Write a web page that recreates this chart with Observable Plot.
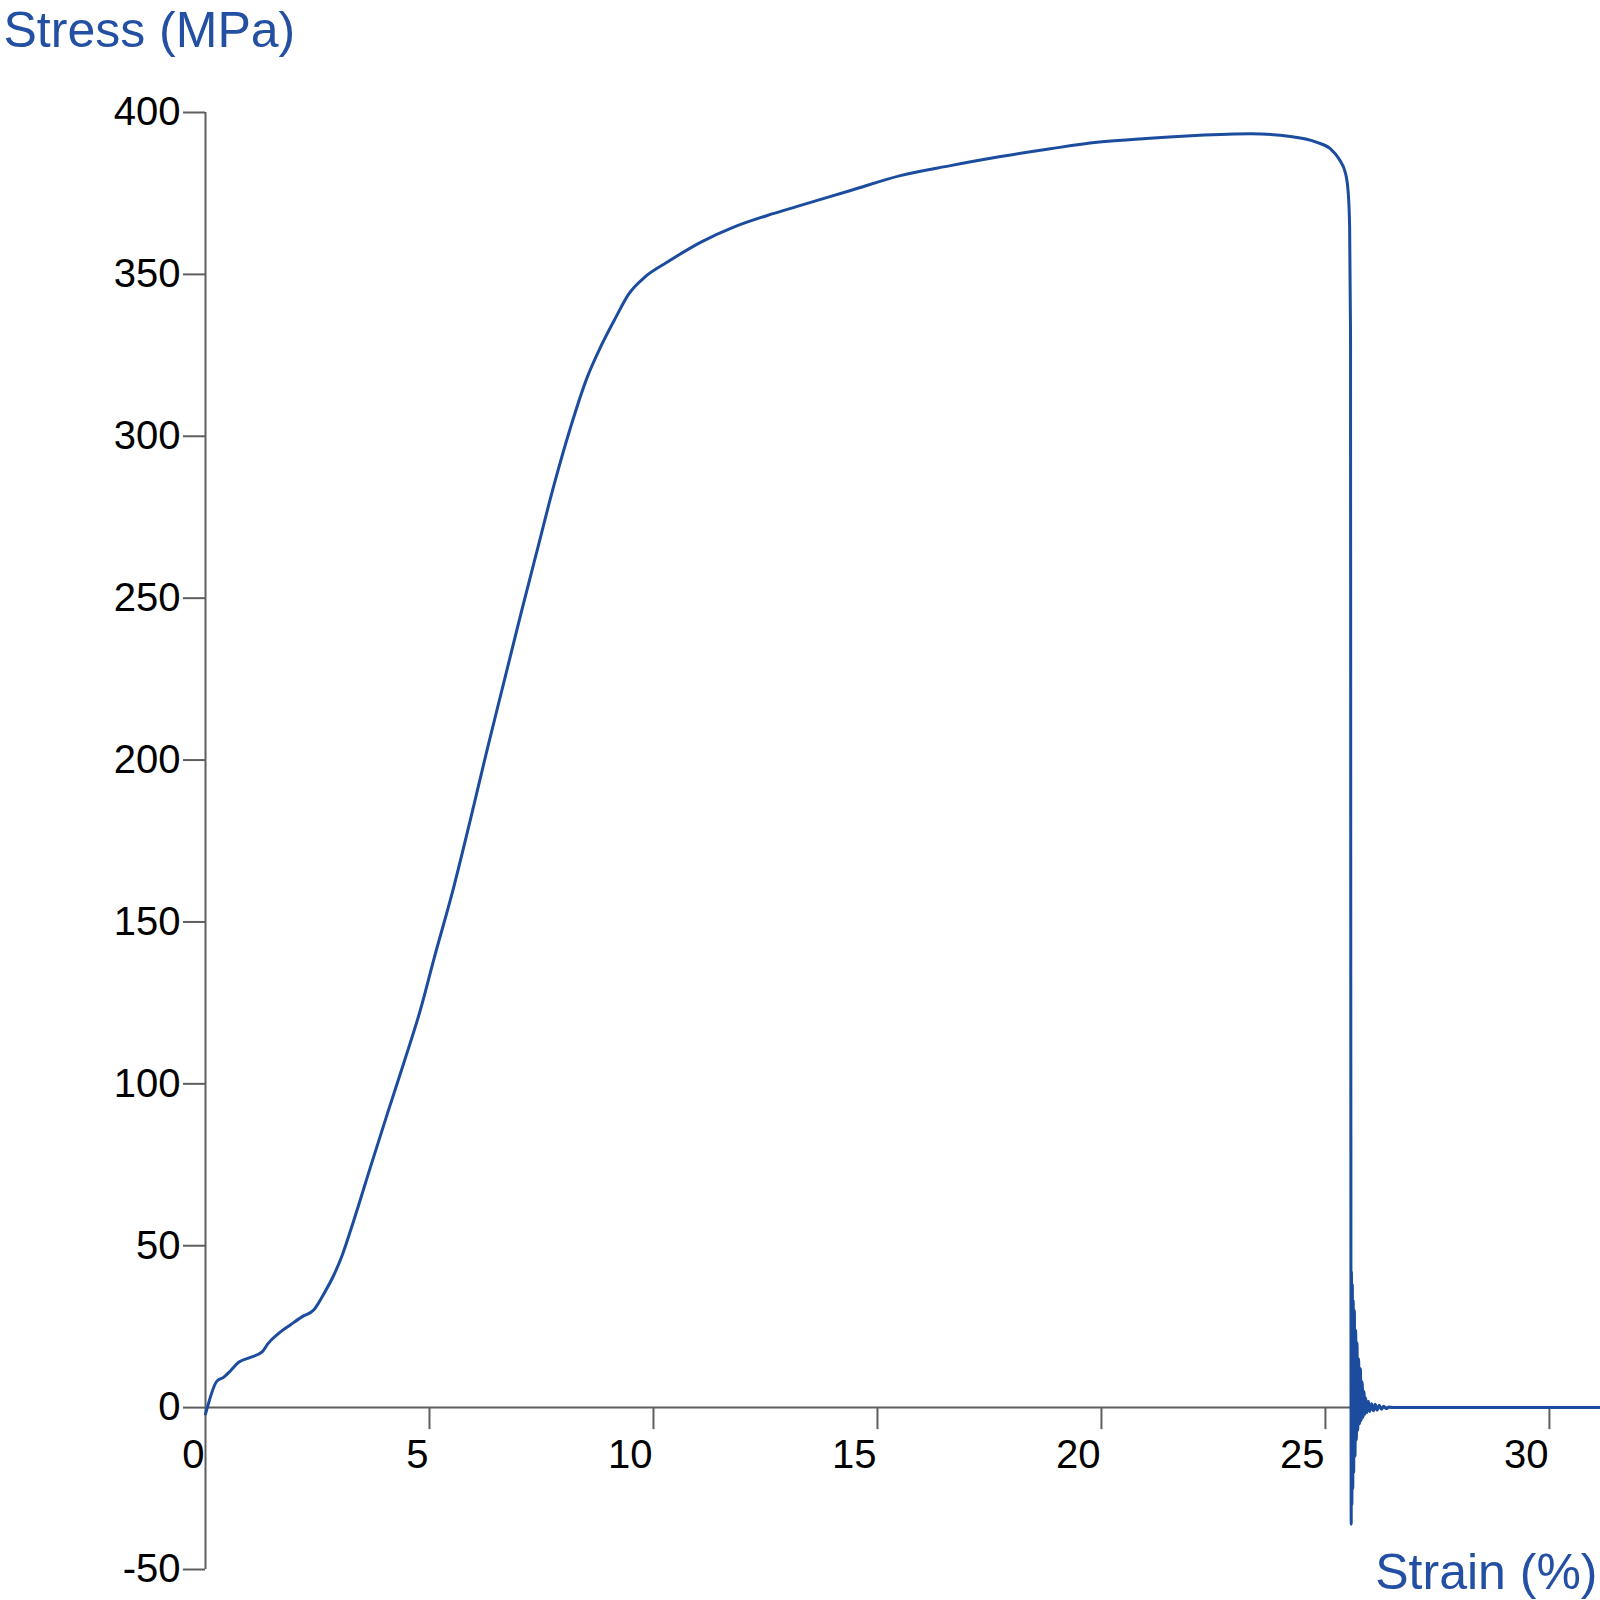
<!DOCTYPE html>
<html>
<head>
<meta charset="utf-8">
<script src="https://cdn.jsdelivr.net/npm/d3@7"></script>
<script src="https://cdn.jsdelivr.net/npm/@observablehq/plot@0.6"></script>
<style>
  html, body { margin: 0; padding: 0; background: #ffffff; }
  #chart svg { display: block; }
</style>
</head>
<body>
<div id="chart"></div>
<script>
// Stress–strain curve
const strain = [
  0, 0.05, 0.25, 0.41, 0.56, 0.74, 1.0, 1.27, 1.39, 1.64, 1.90, 2.16, 2.42, 2.64, 2.86, 3.05,
  3.31, 3.68, 4.06, 4.43, 4.80, 5.10, 5.54, 5.92, 6.29, 6.66, 7.03, 7.38, 7.78, 8.15, 8.52,
  8.82, 9.15, 9.45, 9.80, 10.31, 11.05, 11.79, 12.54, 13.21, 14.40, 15.51, 16.63, 17.75,
  18.86, 19.90, 21.0, 22.0, 23.33, 24.22, 24.81, 25.11, 25.30, 25.45, 25.51, 25.54, 25.56,
  25.565, 25.57, 25.575, 25.58, 25.59, 25.60, 25.61, 25.62, 25.63, 25.645, 25.66, 25.675,
  25.69, 25.705, 25.72, 25.74, 25.76, 25.78, 25.80, 25.82, 25.84, 25.86, 25.88, 25.90,
  25.93, 25.96, 25.99, 26.03, 26.07, 26.11, 26.15, 26.20, 26.25, 26.30, 26.36, 26.42,
  26.5, 31.14
];
const stress = [
  -2, 0.5, 8.1, 9.4, 11.4, 14.0, 15.5, 17.3, 19.7, 23.0, 25.6, 28.1, 30.2, 35.1, 40.8, 47,
  57.8, 74.2, 90.8, 106.6, 123.0, 138.6, 160.7, 182.0, 203.4, 224.0, 244.6, 263.5, 285.0, 302.8, 318.2,
  327.6, 336.5, 344, 349.1, 353.8, 359.9, 364.6, 368.2, 371.0, 375.9, 380.5, 383.6, 386.4,
  388.8, 390.8, 392.0, 392.8, 393.4, 392.6, 390.8, 388.8, 385.7, 381.1, 374.9, 364.6, 331.7,
  150, 20, -36, 42, -30, 38, -25, 33, -20, 30, -15, 24,
  -10, 20, -7, 15, -5, 12, -4, 8, -3, 5, -2, 3,
  -1.5, 2, -1.2, 1.2, -1, 1, -0.8, 0.7, -0.5, 0.4, -0.3, 0.2,
  0, 0
];

const xTicks = [0, 5, 10, 15, 20, 25, 30];
const yTicks = [-50, 0, 50, 100, 150, 200, 250, 300, 350, 400];
const yLabel = "Stress (MPa)";
const xLabel = "Strain (%)";

const data = strain.map((s, i) => ({strain: s, stress: stress[i]}));

const axisColor = "#5e5e5e";
const lineColor = "#1b4c9d";
const labelColor = "#2350a2";

const chart = Plot.plot({
  width: 1600,
  height: 1600,
  marginLeft: 205,
  marginRight: 0,
  marginTop: 112,
  marginBottom: 31,
  x: {domain: [0, 31.14], axis: null},
  y: {domain: [-50, 400], axis: null},
  style: {fontFamily: "'Liberation Sans', Arial, sans-serif", background: "#ffffff"},
  marks: [
    // axis lines
    Plot.ruleY([0], {y: d => d, stroke: axisColor, strokeWidth: 2}),
    Plot.ruleX([0], {x: d => d, stroke: axisColor, strokeWidth: 2}),
    // ticks
    Plot.ruleX(xTicks.filter(d => d !== 0), {x: d => d, y1: () => 0, y2: () => 0, insetBottom: -22, stroke: axisColor, strokeWidth: 2}),
    Plot.ruleY(yTicks, {y: d => d, x1: () => 0, x2: () => 0, insetLeft: -22, stroke: axisColor, strokeWidth: 2}),
    // tick labels
    Plot.text(xTicks, {x: d => d, y: () => 0, text: d => String(d), textAnchor: "end", lineAnchor: "middle", dx: -1, dy: 47.5, fontSize: 40, fill: "#000000"}),
    Plot.text(yTicks, {x: () => 0, y: d => d, text: d => String(d), textAnchor: "end", lineAnchor: "middle", dx: -25, fontSize: 40, fill: "#000000"}),
    // curve
    Plot.line(data, {x: "strain", y: "stress", stroke: lineColor, strokeWidth: 3, strokeLinejoin: "round", curve: "monotone-x"}),
    // axis titles
    Plot.text([yLabel], {frameAnchor: "top-left", text: d => d, textAnchor: "start", lineAnchor: "bottom", dx: -202, dy: -66, fontSize: 50, fill: labelColor}),
    Plot.text([xLabel], {frameAnchor: "bottom-right", text: d => d, textAnchor: "end", lineAnchor: "bottom", dx: -3, dy: 19, fontSize: 50, fill: labelColor})
  ]
});

document.getElementById("chart").appendChild(chart);
</script>
</body>
</html>
